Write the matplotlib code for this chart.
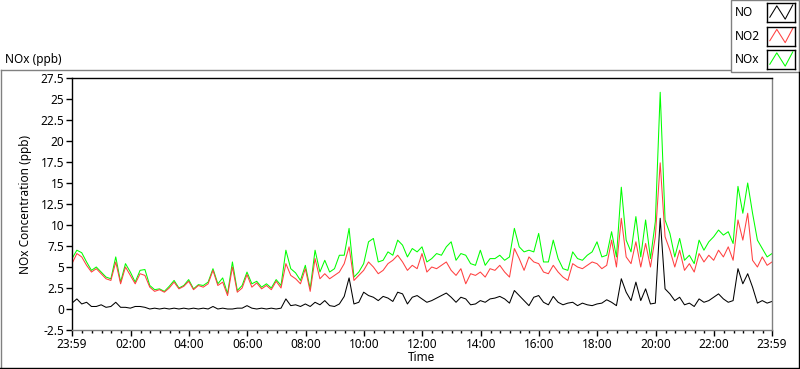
import numpy as np
import matplotlib
matplotlib.use("Agg")
import matplotlib.pyplot as plt
from matplotlib.lines import Line2D
from matplotlib.patches import Rectangle

plt.rcParams['font.family'] = ['Noto Sans', 'DejaVu Sans']

# one reading every 10 minutes, starting at 23:59 of the previous day
step_min = 10
start_min = -1

no = [0.7, 1.2, 0.6, 0.8, 0.3, 0.3, 0.5, 0.2, 0.3, 0.8,
      0.2, 0.2, 0.1, 0.3, 0.3, 0.2, 0.0, 0.1, 0.0, 0.1,
      0.0, 0.1, 0.0, 0.1, 0.0, 0.1, 0.0, 0.1, 0.0, 0.3,
      0.0, 0.1, 0.0, 0.0, 0.1, 0.1, 0.4, 0.1, 0.0, 0.1,
      0.0, 0.1, 0.0, 0.1, 1.2, 0.4, 0.5, 0.3, 0.6, 0.3,
      0.8, 0.5, 1.0, 0.4, 0.3, 0.6, 1.5, 3.7, 0.6, 0.8,
      2.0, 1.6, 1.4, 1.0, 1.5, 1.3, 0.9, 2.0, 1.8, 0.6,
      1.4, 1.6, 1.2, 0.8, 1.0, 1.3, 1.6, 1.9, 1.4, 0.8,
      1.4, 1.2, 0.5, 0.6, 1.0, 0.8, 1.2, 1.3, 1.5, 1.2,
      0.7, 2.2, 1.6, 1.0, 0.4, 1.4, 1.6, 0.8, 0.5, 1.5,
      0.8, 0.5, 0.7, 0.8, 0.4, 0.7, 0.5, 0.4, 0.6, 0.7,
      1.1, 0.8, 0.4, 3.6, 2.0, 1.0, 3.2, 1.0, 2.4, 0.6,
      0.7, 10.8, 2.4, 1.8, 1.0, 1.4, 0.5, 0.7, 0.3, 1.2,
      0.8, 1.0, 1.4, 1.8, 1.2, 0.8, 1.0, 4.8, 3.0, 4.2,
      2.6, 0.7, 1.0, 0.7, 0.9]

no2 = [5.4, 6.6, 6.2, 5.2, 4.4, 4.8, 4.2, 3.6, 3.4, 5.6,
       3.0, 5.0, 4.0, 3.0, 4.2, 4.0, 2.6, 2.1, 2.3, 2.0,
       2.5, 3.2, 2.4, 2.7, 3.3, 2.3, 2.8, 2.6, 3.0, 4.6,
       2.8, 3.2, 1.6, 5.0, 2.0, 2.5, 4.1, 2.6, 3.1, 2.4,
       2.8, 2.3, 3.3, 2.5, 5.4, 4.0, 3.6, 3.0, 4.8, 2.1,
       6.0, 3.6, 4.2, 3.6, 4.0, 4.4, 5.4, 7.4, 3.4, 4.0,
       4.6, 5.6, 5.0, 4.2, 4.6, 5.4, 5.8, 6.4, 5.6, 4.6,
       5.2, 4.8, 6.6, 4.4, 5.0, 4.8, 5.2, 5.6, 4.6, 4.0,
       4.8, 3.0, 4.2, 4.0, 4.4, 3.8, 4.8, 4.6, 5.2, 4.4,
       3.8, 7.2, 6.0, 4.6, 6.2, 5.6, 5.4, 4.4, 4.2, 5.2,
       4.4, 3.8, 3.4, 5.4, 5.0, 4.8, 5.2, 5.6, 5.4, 4.8,
       5.2, 8.2, 5.0, 10.8, 6.2, 5.4, 8.0, 5.0, 7.8, 5.0,
       8.6, 17.4, 8.6, 7.0, 5.0, 7.0, 4.6, 5.4, 4.4, 6.6,
       5.6, 6.4, 5.8, 7.0, 6.2, 7.4, 5.8, 10.6, 8.2, 11.4,
       5.8, 5.0, 6.2, 5.2, 5.6]

nox = [6.0, 7.0, 6.7, 5.6, 4.6, 5.0, 4.4, 3.8, 3.6, 6.2,
       3.2, 5.4, 4.4, 3.2, 4.6, 4.7, 2.8, 2.3, 2.4, 2.1,
       2.7, 3.4, 2.5, 2.8, 3.5, 2.4, 2.9, 2.8, 3.2, 4.8,
       3.0, 3.7, 1.8, 5.6, 2.2, 2.8, 4.4, 3.0, 3.3, 2.6,
       3.0, 2.5, 3.5, 2.8, 7.0, 4.8, 4.3, 3.4, 5.2, 2.4,
       7.0, 4.4, 5.8, 4.4, 4.8, 6.4, 6.4, 9.6, 3.8, 4.4,
       5.4, 8.0, 8.4, 5.6, 5.8, 6.8, 6.4, 8.2, 7.6, 6.2,
       7.2, 6.8, 7.4, 5.6, 6.0, 6.6, 6.4, 7.4, 8.0, 5.8,
       6.6, 6.4, 5.4, 5.2, 7.0, 5.2, 6.0, 6.0, 6.4, 5.8,
       6.2, 9.6, 7.4, 6.8, 7.0, 6.8, 9.0, 5.6, 5.6, 8.2,
       6.0, 4.8, 4.6, 6.8, 6.0, 5.8, 6.4, 6.8, 8.0, 6.2,
       6.4, 9.2, 6.2, 14.5, 8.2, 6.8, 11.0, 6.2, 10.6, 6.0,
       10.4, 25.8, 10.6, 9.0, 6.2, 8.4, 5.8, 6.4, 5.4, 8.2,
       7.0, 8.0, 8.6, 9.4, 8.8, 9.2, 7.8, 14.6, 11.4, 15.0,
       11.4, 8.2, 7.2, 6.2, 6.6]

x_major = [-1, 120, 240, 360, 480, 600, 720, 840, 960, 1080, 1200, 1320, 1439]
x_labels = ["23:59", "02:00", "04:00", "06:00", "08:00", "10:00", "12:00",
            "14:00", "16:00", "18:00", "20:00", "22:00", "23:59"]
y_major = [-2.5, 0, 2.5, 5, 7.5, 10, 12.5, 15, 17.5, 20, 22.5, 25, 27.5]
y_labels = ["-2.5", "0", "2.5", "5", "7.5", "10", "12.5", "15", "17.5",
            "20", "22.5", "25", "27.5"]

series_names = ["NO", "NO2", "NOx"]
series_colors = ["#000000", "#FF4040", "#00FF00"]

t = start_min + step_min * np.arange(len(no))

fig = plt.figure(figsize=(8.0, 3.69), dpi=100)
W, H = 800, 369


def fx(px):
    return px / W


def fy(py):
    return 1 - py / H


# outer panel frame (gray top/left, black bottom/right)
fig.add_artist(Line2D([fx(0.5), fx(730)], [fy(69.5), fy(69.5)], color="#808080", lw=1))
fig.add_artist(Line2D([fx(0.5), fx(0.5)], [fy(69.5), fy(368)], color="#808080", lw=1))
fig.add_artist(Line2D([fx(0), fx(799)], [fy(368), fy(368)], color="black", lw=1))
fig.add_artist(Line2D([fx(798.5), fx(798.5)], [fy(72), fy(368)], color="black", lw=1))

fig.text(fx(5), fy(59), "NOx (ppb)", fontsize=8.5, va="center", ha="left")

ax = fig.add_axes([fx(72), fy(330), fx(772) - fx(72), fy(78) - fy(330)])
ax.plot(t, nox, color=series_colors[2], lw=0.75)
ax.plot(t, no2, color=series_colors[1], lw=0.75)
ax.plot(t, no, color=series_colors[0], lw=0.75)

ax.set_xlim(-1, 1439)
ax.set_ylim(-2.5, 27.5)
ax.set_xticks(x_major)
ax.set_xticklabels(x_labels)
ax.set_xticks([m for m in range(20, 1439, 20) if m % 120 != 0], minor=True)
ax.set_yticks(y_major)
ax.set_yticklabels(y_labels)
ax.tick_params(axis="both", which="major", labelsize=8.5, length=4, width=1, direction="out", pad=1.5)
ax.tick_params(axis="x", which="minor", length=2.5, width=1, direction="out")
ax.spines["left"].set_color("black")
ax.spines["top"].set_color("black")
ax.spines["right"].set_color("#808080")
ax.spines["bottom"].set_color("#808080")
for s in ax.spines.values():
    s.set_linewidth(1)
ax.set_ylabel("NOx Concentration (ppb)", fontsize=8.5, labelpad=6)
ax.set_xlabel("Time", fontsize=8.5, labelpad=0)

# legend box in the top right corner
fig.add_artist(Rectangle((fx(730.5), fy(71.5)), fx(799) - fx(730.5), fy(0) - fy(71.5),
                         transform=fig.transFigure, fill=False, edgecolor="#808080", lw=1))
for k, name in enumerate(series_names):
    top = 3 + 23.5 * k
    fig.text(fx(735), fy(top + 9.5), name, fontsize=8.5, va="center", ha="left")
    sw = fig.add_axes([fx(767), fy(top + 19), fx(795) - fx(767), fy(top) - fy(top + 19)])
    sw.plot([0.1, 0.35, 0.65, 0.92], [0.25, 0.85, 0.15, 0.9], color=series_colors[k], lw=0.75)
    sw.set_xlim(0, 1)
    sw.set_ylim(0, 1)
    sw.set_xticks([])
    sw.set_yticks([])
    for s in sw.spines.values():
        s.set_color("black")
        s.set_linewidth(1)

fig.savefig("out.png", dpi=100)
